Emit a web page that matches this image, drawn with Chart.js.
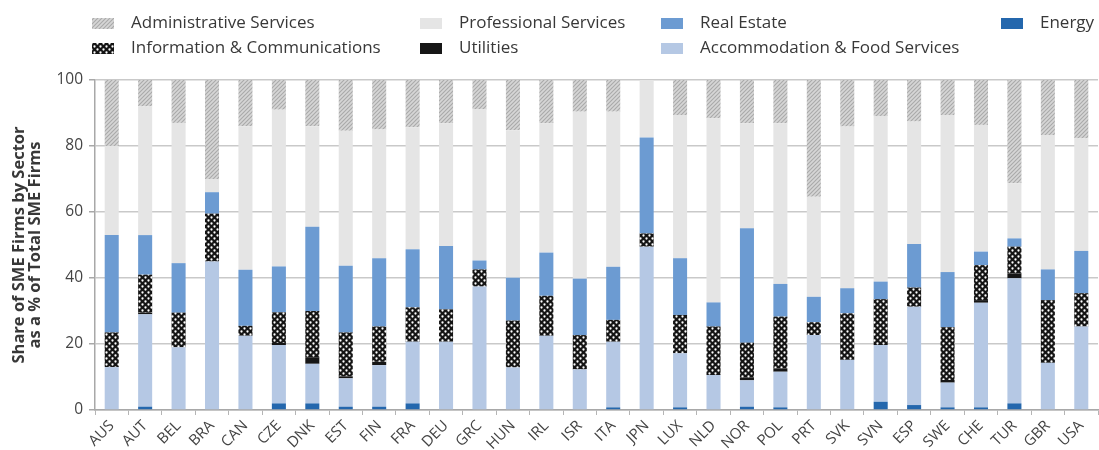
<!DOCTYPE html>
<html>
<head>
<meta charset="utf-8">
<script src="https://cdn.jsdelivr.net/npm/chart.js@4.4.0/dist/chart.umd.min.js"></script>
<style>
  html, body { margin: 0; padding: 0; background: #fff; }
  #wrap { position: relative; width: 1099px; height: 450px; }
</style>
</head>
<body>
<div id="wrap"><canvas id="c" width="1099" height="450"></canvas></div>
<script>
const countries = ['AUS','AUT','BEL','BRA','CAN','CZE','DNK','EST','FIN','FRA','DEU','GRC','HUN','IRL','ISR','ITA','JPN','LUX','NLD','NOR','POL','PRT','SVK','SVN','ESP','SWE','CHE','TUR','GBR','USA'];
const energy        = [0,1,0,0,0,2,2,1,1,2,0,0,0,0,0,0.8,0,0.8,0,1,0.8,0,0,2.5,1.5,0.8,0.8,2,0,0];
const accommodation = [13,28,19,45,22.5,17.7,12,8.6,12.6,18.7,20.7,37.4,12.9,22.5,12.3,19.9,49.5,16.4,10.6,8,10.8,22.7,15.2,17.2,29.8,7.5,31.7,37.9,14.3,25.3];
const utilities     = [0,0.5,0,0,0,0.6,2,0.6,1,0,0,0,0,0,0,0,0,0,0,0.8,1,0,0,0,0,0.8,0.8,1.5,0,0];
const infoComm      = [10.5,11.5,10.5,14.5,3,9.3,14,13.3,10.7,10.4,9.8,5.2,14.2,12.1,10.4,6.6,4,11.6,14.7,10.6,15.7,3.9,14.1,13.9,5.8,16,10.6,8.1,19,10.1];
const realEstate    = [29.5,12,15,6.5,17,13.9,25.5,20.2,20.7,17.6,19.2,2.7,13,13.1,17.1,16.1,29.1,17.2,7.3,34.7,9.9,7.7,7.6,5.3,13.2,16.7,4.1,2.5,9.3,12.8];
const professional  = [27,39,42.5,4,43.5,47.5,30.5,40.9,39,37,37.2,45.8,44.7,39.2,50.6,47,17.4,43.4,55.8,31.8,48.7,30.3,49,50.2,37.1,47.6,38.4,16.7,40.7,34.1];
const administrative= [20,8,13,30,14,9,14,15.4,15,14.3,13.1,8.9,15.2,13.1,9.6,9.6,0,10.6,11.6,13.1,13.1,35.4,14.1,10.9,12.6,10.6,13.6,31.3,16.7,17.7];
const yTicks = [0,20,40,60,80,100];
const yTitle = ['Share of SME Firms by Sector','as a % of Total SME Firms'];

function makePattern(size, draw) {
  const c = document.createElement('canvas');
  c.width = size; c.height = size;
  const g = c.getContext('2d');
  draw(g, size);
  return document.getElementById('c').getContext('2d').createPattern(c, 'repeat');
}
const hatch = makePattern(4, (g, s) => {
  g.fillStyle = '#d6d6d6'; g.fillRect(0,0,s,s);
  g.strokeStyle = '#a9a9a9'; g.lineWidth = 1.1;
  g.beginPath(); g.moveTo(-1, s+1); g.lineTo(s+1, -1); g.stroke();
  g.beginPath(); g.moveTo(-1, 1); g.lineTo(1, -1); g.stroke();
  g.beginPath(); g.moveTo(s-1, s+1); g.lineTo(s+1, s-1); g.stroke();
});
const checker = makePattern(6, (g, s) => {
  g.fillStyle = '#141414'; g.fillRect(0,0,s,s);
  g.fillStyle = '#ffffff';
  g.beginPath(); g.arc(1.5,1.5,1.15,0,Math.PI*2); g.fill();
  g.beginPath(); g.arc(4.5,4.5,1.15,0,Math.PI*2); g.fill();
});

const colors = {
  energy: '#2467ad',
  accommodation: '#b5c8e4',
  utilities: '#161616',
  info: checker,
  realEstate: '#6c9bd2',
  professional: '#e5e5e5',
  admin: hatch
};

const datasets = [
  {label:'Energy', data: energy, backgroundColor: colors.energy},
  {label:'Accommodation & Food Services', data: accommodation, backgroundColor: colors.accommodation},
  {label:'Utilities', data: utilities, backgroundColor: colors.utilities},
  {label:'Information & Communications', data: infoComm, backgroundColor: colors.info},
  {label:'Real Estate', data: realEstate, backgroundColor: colors.realEstate},
  {label:'Professional Services', data: professional, backgroundColor: colors.professional},
  {label:'Administrative Services', data: administrative, backgroundColor: colors.admin}
];

// legend layout: [label, colour key, x of swatch, row]
const legendItems = [
  ['Administrative Services', 'admin', 92, 0],
  ['Professional Services', 'professional', 420, 0],
  ['Real Estate', 'realEstate', 661, 0],
  ['Energy', 'energy', 1001, 0],
  ['Information & Communications', 'info', 92, 1],
  ['Utilities', 'utilities', 420, 1],
  ['Accommodation & Food Services', 'accommodation', 661, 1]
];

const legendPlugin = {
  id: 'customLegend',
  afterDraw(chart) {
    const ctx = chart.ctx;
    ctx.save();
    ctx.font = '17px "Open Sans"';
    ctx.textBaseline = 'middle';
    legendItems.forEach(([label, key, x, row]) => {
      const y = 23 + row * 25;
      ctx.fillStyle = colors[key];
      ctx.fillRect(x, y - 5, 22, 11);
      ctx.fillStyle = '#383838';
      ctx.fillText(label, x + 39, y);
    });
    ctx.restore();
  }
};

new Chart(document.getElementById('c'), {
  type: 'bar',
  data: { labels: countries, datasets },
  options: {
    responsive: false,
    animation: false,
    layout: { padding: { top: 80, right: 1, left: 11, bottom: 0 } },
    datasets: { bar: { categoryPercentage: 0.42, barPercentage: 1.0 } },
    plugins: { legend: { display: false }, tooltip: { enabled: false } },
    scales: {
      x: {
        stacked: true,
        grid: { display: true, drawOnChartArea: false, offset: true, tickLength: 5, color: '#b5b5b5' },
        border: { color: '#a8a8a8', width: 1.5 },
        ticks: { maxRotation: 45, minRotation: 45, padding: 2, font: { size: 15, family: '"Open Sans"' }, color: '#444' },
        afterFit: s => { s.height = 40; }
      },
      y: {
        stacked: true,
        min: 0, max: 100,
        afterBuildTicks: s => { s.ticks = yTicks.map(v => ({ value: v })); },
        ticks: { padding: 6, font: { size: 15.5, family: '"Open Sans"' }, color: '#444' },
        grid: { color: '#c9c9c9', lineWidth: 1.5, tickLength: 6, tickColor: '#a8a8a8' },
        border: { color: '#a8a8a8', width: 1.5 },
        title: { display: true, text: yTitle, font: { size: 16.5, weight: 'bold', family: '"Open Sans"', lineHeight: 1.0 }, color: '#383838', padding: { top: 0, bottom: 0 } },
        afterFit: s => { s.width = 84; }
      }
    }
  },
  plugins: [legendPlugin]
});
</script>
</body>
</html>
